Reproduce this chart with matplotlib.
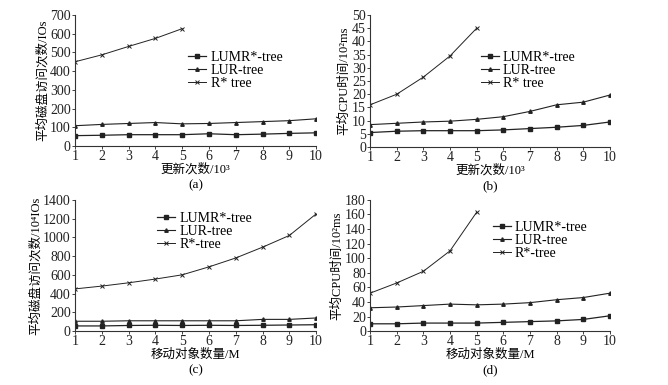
import matplotlib
matplotlib.use("Agg")
import matplotlib.pyplot as plt

plt.rcParams['font.family'] = ['Liberation Serif', 'Noto Sans CJK SC', 'DejaVu Sans']

x = [1, 2, 3, 4, 5, 6, 7, 8, 9, 10]
x5 = [1, 2, 3, 4, 5]

# (a) disk accesses vs updates
a_lumr = [55, 57, 60, 60, 60, 65, 60, 63, 67, 70]
a_lur = [108, 115, 120, 125, 118, 120, 125, 130, 135, 145]
a_rstar = [450, 487, 532, 575, 627]

# (b) CPU time vs updates
b_lumr = [5.5, 6.0, 6.2, 6.2, 6.2, 6.5, 7.0, 7.5, 8.2, 9.5]
b_lur = [8.5, 9.0, 9.5, 9.8, 10.5, 11.5, 13.5, 16.0, 17.0, 19.7]
b_rstar = [16.0, 20.0, 26.5, 34.5, 45.0]

# (c) disk accesses vs moving objects
c_lumr = [55, 55, 60, 62, 60, 62, 60, 62, 65, 68]
c_lur = [105, 105, 110, 110, 110, 110, 110, 125, 125, 140]
c_rstar = [450, 480, 515, 555, 600, 685, 780, 895, 1020, 1250]

# (d) CPU time vs moving objects
d_lumr = [10, 10, 11, 11, 11, 12, 13, 14, 16, 21]
d_lur = [32, 33, 35, 37, 36, 37, 39, 43, 46, 52]
d_rstar = [52, 66, 82, 110, 163]

panels = [
    dict(pos=[0.1123, 0.621, 0.361, 0.340], lumr=a_lumr, lur=a_lur, rs=a_rstar, rsx=x5,
         ylim=700, ystep=100, ylabel='平均磁盘访问次数/IOs', xlabel='更新次数/10³',
         tag='(a)', names=['LUMR*-tree', 'LUR-tree', 'R* tree'], leg=(0.43, 0.80)),
    dict(pos=[0.554, 0.618, 0.359, 0.343], lumr=b_lumr, lur=b_lur, rs=b_rstar, rsx=x5,
         ylim=50, ystep=5, ylabel='平均CPU时间/10²ms', xlabel='更新次数/10³',
         tag='(b)', names=['LUMR*-tree', 'LUR-tree', 'R* tree'], leg=(0.42, 0.80)),
    dict(pos=[0.1123, 0.140, 0.361, 0.341], lumr=c_lumr, lur=c_lur, rs=c_rstar, rsx=x,
         ylim=1400, ystep=200, ylabel='平均磁盘访问次数/10⁴IOs', xlabel='移动对象数量/M',
         tag='(c)', names=['LUMR*-tree', 'LUR-tree', 'R*-tree'], leg=(0.30, 0.98)),
    dict(pos=[0.554, 0.140, 0.359, 0.341], lumr=d_lumr, lur=d_lur, rs=d_rstar, rsx=x5,
         ylim=180, ystep=20, ylabel='平均CPU时间/10²ms', xlabel='移动对象数量/M',
         tag='(d)', names=['LUMR*-tree', 'LUR-tree', 'R*-tree'], leg=(0.47, 0.91)),
]

fig = plt.figure(figsize=(6.68, 3.85), dpi=100)
lc = '#222222'
for i, p in enumerate(panels):
    ax = fig.add_axes(p['pos'])
    ms = 2.5
    ax.plot(x, p['lumr'], color=lc, lw=0.9, marker='s', ms=ms, label=p['names'][0])
    ax.plot(x, p['lur'], color=lc, lw=0.8, marker='^', ms=ms, label=p['names'][1])
    ax.plot(p['rsx'], p['rs'], color=lc, lw=0.7, marker='x', ms=ms, mew=0.7, label=p['names'][2])
    ax.set_xlim(1, 10)
    ax.set_ylim(0, p['ylim'])
    ax.set_xticks(x)
    ax.set_yticks(range(0, p['ylim'] + 1, p['ystep']))
    for s in ['top', 'right']:
        ax.spines[s].set_visible(False)
    for s in ['left', 'bottom']:
        ax.spines[s].set_linewidth(0.8)
        ax.spines[s].set_color('#333333')
    ax.tick_params(length=2, width=0.6, labelsize=10, pad=1, colors='#222222')
    ax.set_ylabel(p['ylabel'], fontsize=9, labelpad=1)
    ax.set_xlabel(p['xlabel'], fontsize=9, labelpad=0)
    ax.text(0.5, -0.30, p['tag'], transform=ax.transAxes, ha='center', va='center', fontsize=9.5)
    ax.legend(loc='upper left', bbox_to_anchor=p['leg'], frameon=False, fontsize=10,
              handlelength=1.3, handletextpad=0.3, labelspacing=0.0, borderpad=0.2)

fig.savefig('out.png', dpi=100)
